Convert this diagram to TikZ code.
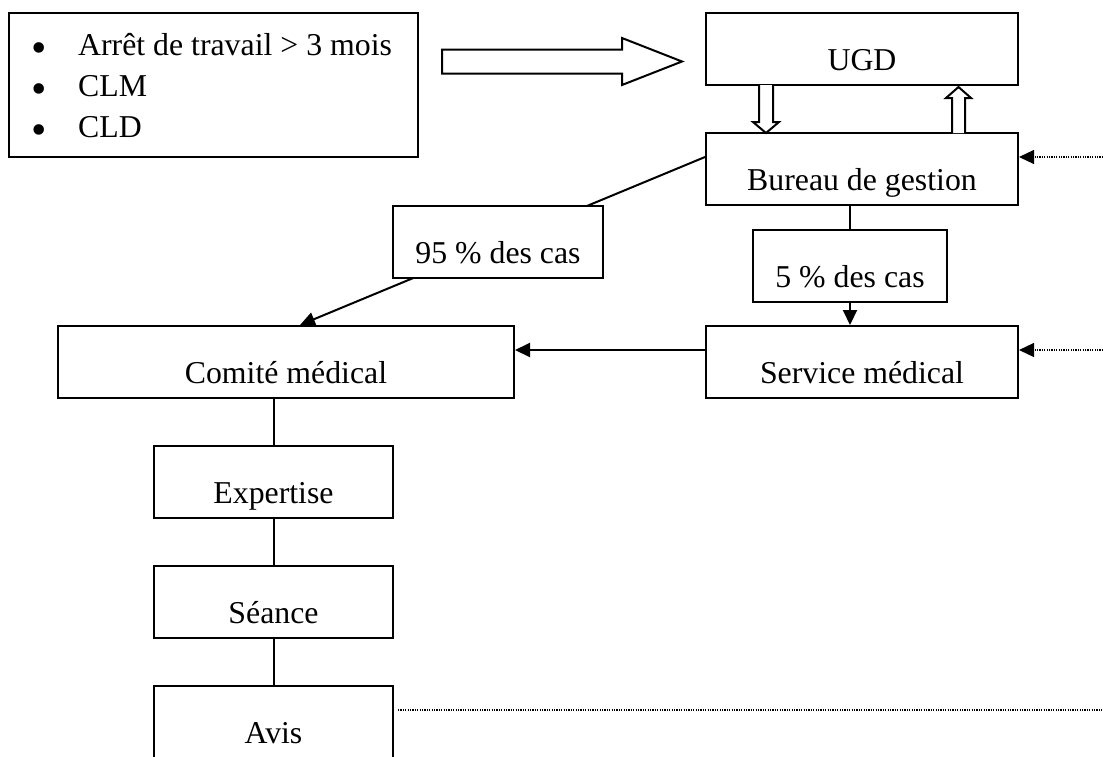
\documentclass[tikz,border=0pt]{standalone}
\usepackage{fontspec}
\setmainfont{Liberation Serif}
\usetikzlibrary{arrows.meta}
\newcommand{\bigbul}{\makebox[45pt][l]{\hspace{-2pt}\raisebox{-7pt}{\fontsize{44}{44}\selectfont •}}}
\begin{document}
\begin{tikzpicture}[x=1pt,y=-1pt,
  every node/.style={font=\fontsize{31.8}{38}\selectfont},
  box/.style={draw, line width=2pt, fill=white, inner sep=0pt,
    text height=57pt, text depth=15pt, minimum height=72pt},
  conn/.style={line width=2pt},
  tip/.style={-{Triangle[length=15pt,width=14pt]}},
  dots/.style={line width=1.2pt, dash pattern=on 1.2pt off 1.2pt},
  hollow/.style={draw, line width=2pt, fill=white, line join=miter},
  txt/.style={anchor=base west, inner sep=0pt}]
\clip (0,0) rectangle (1103,756);
% list box
\node[draw, line width=2pt, inner sep=0pt, minimum width=409pt, minimum height=144pt] (list) at (213.5,85) {};
\node[txt] (l1) at (33,55) {\bigbul Arrêt de travail > 3 mois};
\node[txt] (l2) at (33,96) {\bigbul CLM};
\node[txt] (l3) at (33,137) {\bigbul CLD};
% main boxes
\node[box, minimum width=312pt] (UGD) at (862,49) {UGD};
\node[box, minimum width=312pt] (Bureau) at (862,169) {Bureau de gestion};
\node[box, minimum width=312pt] (Service) at (862,362) {Service médical};
\node[box, minimum width=456pt] (Comite) at (286,362) {Comité médical};
\node[box, minimum width=239pt] (Expertise) at (273.5,482) {Expertise};
\node[box, minimum width=239pt] (Seance) at (273.5,602) {Séance};
\node[box, minimum width=239pt] (Avis) at (273.5,722) {Avis};
% big hollow arrow
\draw[hollow] (442,49.5) -- (622,49.5) -- (622,38) -- (682,61.5) -- (622,85) -- (622,73.5) -- (442,73.5) -- cycle;
% small hollow arrows
\draw[hollow] (759,85) -- (759,122) -- (753,122) -- (766,133) -- (779,122) -- (773,122) -- (773,85);
\draw[hollow] (952,133) -- (952,98) -- (946,98) -- (958.5,87) -- (971,98) -- (965,98) -- (965,133);
% diagonal (under 95 % box)
\draw[conn,tip] ([yshift=12pt]Bureau.west) -- ([xshift=14pt]Comite.north);
\node[box, minimum width=210pt] (p95) at (498,242) {95 \% des cas};
\node[box, minimum width=194pt] (p5) at (850,266) {5 \% des cas};
% connectors
\draw[conn] (p5.north |- Bureau.south) -- (p5.north);
\draw[conn,tip] (p5.south) -- (p5.south |- Service.north);
\draw[conn,tip] ([yshift=12pt]Service.west) -- ([yshift=12pt]Comite.east);
\draw[conn] (Expertise.north |- Comite.south) -- (Expertise.north);
\draw[conn] (Expertise.south) -- (Seance.north);
\draw[conn] (Seance.south) -- (Avis.north);
% dotted
\coordinate (r1) at (1103,157);
\coordinate (r2) at (1103,350);
\coordinate (r3) at (1103,710);
\draw[dots,tip] (r1) -- ([yshift=12pt]Bureau.east);
\draw[dots,tip] (r2) -- ([yshift=12pt]Service.east);
\draw[dots] ([xshift=4pt,yshift=12pt]Avis.east) -- (r3);
\end{tikzpicture}
\end{document}
